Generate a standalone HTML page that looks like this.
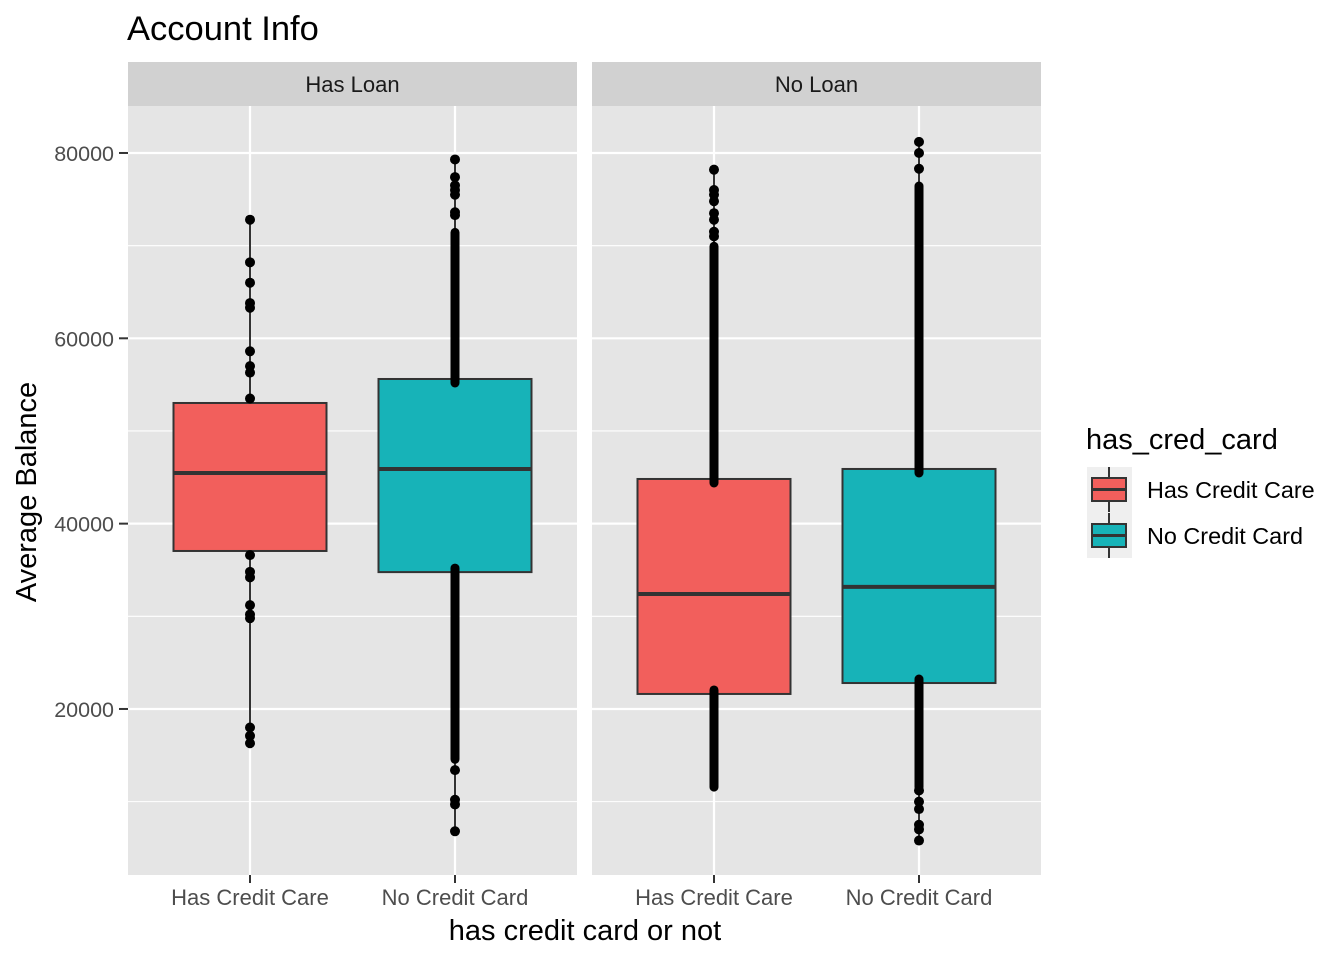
<!DOCTYPE html>
<html><head><meta charset="utf-8"><style>
body{margin:0;background:#fff;}
svg{display:block;font-family:"Liberation Sans",Arial,sans-serif;}
</style></head><body>
<svg id="chart" width="1344" height="960">
<text x="127" y="40" font-size="34.5" fill="#000">Account Info</text>
<g id="panels"></g>
<text transform="translate(36,492) rotate(-90)" text-anchor="middle" font-size="29" fill="#000">Average Balance</text>
<text x="585" y="940" text-anchor="middle" font-size="29" fill="#000">has credit card or not</text>
<g>
<text x="1086" y="449" font-size="29" fill="#000">has_cred_card</text>
<rect x="1087" y="467" width="45" height="91" fill="#efefef"/>
<g>
<line x1="1109" y1="467" x2="1109" y2="512" stroke="#333" stroke-width="2"/>
<rect x="1092" y="478" width="34" height="23" fill="#F25F5C" stroke="#333" stroke-width="2"/>
<line x1="1092" y1="489.5" x2="1126" y2="489.5" stroke="#333" stroke-width="3"/>
<text x="1147" y="498" font-size="23.4" fill="#000">Has Credit Care</text></g>
<g>
<line x1="1109" y1="513" x2="1109" y2="558" stroke="#333" stroke-width="2"/>
<rect x="1092" y="524" width="34" height="23" fill="#17B3B8" stroke="#333" stroke-width="2"/>
<line x1="1092" y1="535.5" x2="1126" y2="535.5" stroke="#333" stroke-width="3"/>
<text x="1147" y="544" font-size="23.4" fill="#000">No Credit Card</text></g>
</g>
</svg>
<script>
const panelsNames=["Has Loan","No Loan"];
const categories=["Has Credit Care","No Credit Card"];
const q1=[[37050,34770],[21620,22800]];
const medians=[[45470,45900],[32410,33170]];
const q3=[[53020,55610],[44820,45900]];
const whiskerLow=[[16300,6840],[11900,5760]];
const whiskerHigh=[[72800,79330],[78160,81290]];
const denseLow=[[null,[15000,34770]],[[12000,21620],[12000,22800]]];
const denseHigh=[[null,[55610,71000]],[[44820,69500],[45900,76000]]];
const points=[
 [[72800,68200,66000,63800,63300,58600,57000,56300,53500,36600,34800,34200,31200,30200,29800,18000,17100,16300],
  [79300,77400,76500,76000,75500,73600,73300,13400,10200,9700,6800]],
 [[78200,76000,75500,74800,73500,72800,71500,71000],
  [81200,80000,78300,11200,10000,9200,7500,7000,5800]]];
const majorTicks=[20000,40000,60000,80000];
const minorTicks=[10000,30000,50000,70000];
const tickLabels=["20000","40000","60000","80000"];
const colors=["#F25F5C","#17B3B8"];

const NS="http://www.w3.org/2000/svg";
const panelX=[128,592],panelW=449,plotTop=106,plotBottom=875;
function y(v){return 894.3-v/20000*185.33;}
function xc(p,i){return panelX[p]+122+i*205;}
const g=document.getElementById('panels');
function el(t,a,parent){const e=document.createElementNS(NS,t);for(const k in a)e.setAttribute(k,a[k]);(parent||g).appendChild(e);return e;}
majorTicks.forEach((t,i)=>{
 const tx=el('text',{x:114,y:y(t)+8,'text-anchor':'end','font-size':21.5,fill:'#4d4d4d'});tx.textContent=tickLabels[i];
 
 
 el('line',{x1:119,x2:128,y1:y(t),y2:y(t),stroke:'#333','stroke-width':2});
});
for(let p=0;p<2;p++){
 const pg=el('g',{});
 
 
 el('rect',{x:panelX[p],y:plotTop,width:panelW,height:plotBottom-plotTop,fill:'#e5e5e5'},pg);
 const st=el('rect',{x:panelX[p],y:62,width:panelW,height:44,fill:'#d1d1d1'},pg);
 
 
 const stt=el('text',{x:panelX[p]+panelW/2,y:92,'text-anchor':'middle','font-size':22,fill:'#1a1a1a'},pg);stt.textContent=panelsNames[p];
 minorTicks.forEach(t=>el('line',{x1:panelX[p],x2:panelX[p]+panelW,y1:y(t),y2:y(t),stroke:'#fff','stroke-width':1.1},pg));
 majorTicks.forEach(t=>el('line',{x1:panelX[p],x2:panelX[p]+panelW,y1:y(t),y2:y(t),stroke:'#fff','stroke-width':2.2},pg));
 for(let i=0;i<2;i++){
  const cx=xc(p,i);
  el('line',{x1:cx,x2:cx,y1:plotTop,y2:plotBottom,stroke:'#fff','stroke-width':2.2},pg);
  el('line',{x1:cx,x2:cx,y1:plotBottom,y2:plotBottom+8,stroke:'#333','stroke-width':2},pg);
  const lb=el('text',{x:cx,y:905,'text-anchor':'middle','font-size':22,fill:'#4d4d4d'},pg);lb.textContent=categories[i];
  
  
 }
}
for(let p=0;p<2;p++)for(let i=0;i<2;i++){
 const cx=xc(p,i),bg=el('g',{});
 
 
 el('line',{x1:cx,x2:cx,y1:y(whiskerHigh[p][i]),y2:y(whiskerLow[p][i]),stroke:'#333','stroke-width':2},bg);
 el('rect',{x:cx-76.5,y:y(q3[p][i]),width:153,height:y(q1[p][i])-y(q3[p][i]),fill:colors[i],stroke:'#333','stroke-width':2},bg);
 el('line',{x1:cx-76.5,x2:cx+76.5,y1:y(medians[p][i]),y2:y(medians[p][i]),stroke:'#333','stroke-width':4},bg);
 [denseLow[p][i],denseHigh[p][i]].forEach(d=>{if(d)el('line',{x1:cx,x2:cx,y1:y(d[1])-4,y2:y(d[0])+4,stroke:'#000','stroke-width':9,'stroke-linecap':'round'},bg);});
 points[p][i].forEach(v=>{
  const c=el('circle',{cx:cx,cy:y(v),r:5,fill:'#000'},bg);
  
  
 });
}
</script>
</body></html>
